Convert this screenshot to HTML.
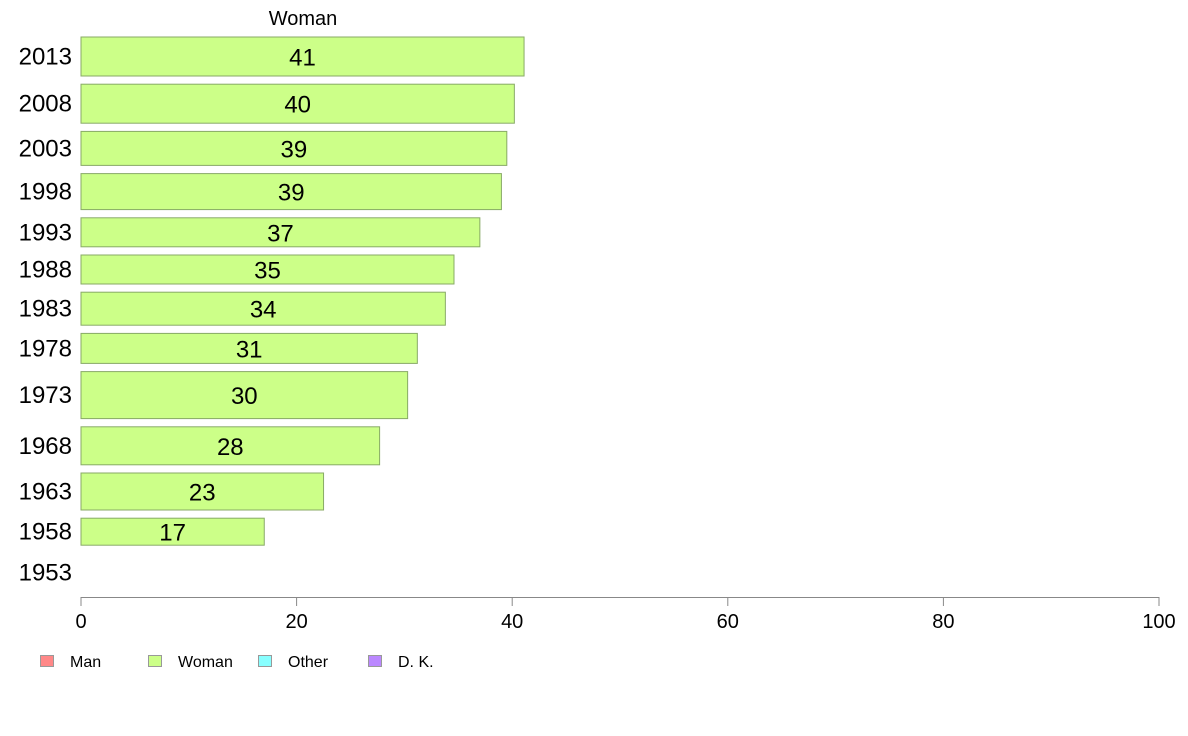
<!DOCTYPE html>
<html><head><meta charset="utf-8"><style>
body{margin:0;background:#fff;}
svg{display:block;font-family:"Liberation Sans",Arial,sans-serif;}
</style></head><body>
<svg id="chart" width="1188" height="736"></svg>
<script>
const years = ["2013","2008","2003","1998","1993","1988","1983","1978","1973","1968","1963","1958","1953"];
const values = [41.1,40.2,39.5,39.0,37.0,34.6,33.8,31.2,30.3,27.7,22.5,17.0,null];
const labels = ["41","40","39","39","37","35","34","31","30","28","23","17",""];
const weights = [39,39,34,36,29,29,33,30,47,38,37,27,38];
const xTicks = [0,20,40,60,80,100];
const legendItems = ["Man","Woman","Other","D. K."];
const legendColors = ["#ff8888","#ccff88","#88ffff","#bb88ff"];

const svg = document.getElementById('chart');
const NS = "http://www.w3.org/2000/svg";
function mk(tag, attrs, parent){const e=document.createElementNS(NS,tag);for(const k in attrs)e.setAttribute(k,attrs[k]);(parent||svg).appendChild(e);return e;}
const x0=81, x1=1159;
function xs(v){return x0+(v/100)*(x1-x0);}

const title = mk('text',{x:303,y:25,'font-size':20,'text-anchor':'middle',fill:'#000'});


title.textContent='Woman';

let y=37; const gap=8.2;
years.forEach((yr,i)=>{
  const h=weights[i];
  const cy=y+h/2;
  const yl=mk('text',{x:72,y:cy+8,'font-size':24,'text-anchor':'end',fill:'#000'});
  
  
  yl.textContent=yr;
  if(values[i]!=null){
    const r=mk('rect',{x:x0,y:y,width:xs(values[i])-x0,height:h,fill:'#ccff88',stroke:'#88aa66','stroke-width':1});
    
    
    const t=mk('text',{x:(x0+xs(values[i]))/2,y:cy+9,'font-size':24,'text-anchor':'middle',fill:'#000'});
    
    
    t.textContent=labels[i];
  }
  y+=h+gap;
});

const ax=mk('line',{x1:x0,y1:597.5,x2:x1,y2:597.5,stroke:'#888','stroke-width':1});


xTicks.forEach(v=>{
  const tk=mk('line',{x1:xs(v),y1:597,x2:xs(v),y2:606,stroke:'#888','stroke-width':1});
  
  
  const tl=mk('text',{x:xs(v),y:628,'font-size':20,'text-anchor':'middle',fill:'#000'});
  
  
  tl.textContent=v;
});

const lx=[40,148,258,368];
legendItems.forEach((n,i)=>{
  const b=mk('rect',{x:lx[i]+0.5,y:655.5,width:13,height:11,fill:legendColors[i],stroke:'#999','stroke-width':1});
  
  
  const t=mk('text',{x:lx[i]+30,y:667,'font-size':16,fill:'#000'});
  
  
  t.textContent=n;
});
</script>
</body></html>
